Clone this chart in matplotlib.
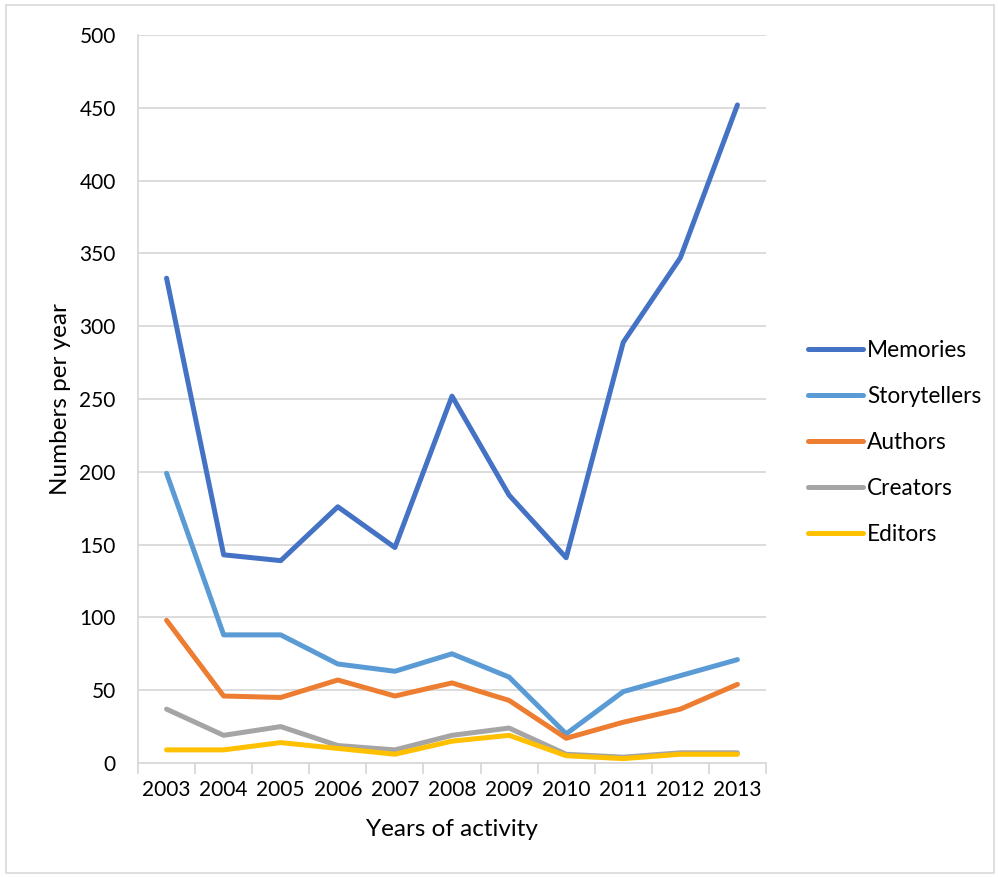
import matplotlib.pyplot as plt
from matplotlib.patches import Rectangle

plt.rcParams['font.family'] = ['Lato', 'DejaVu Sans']

years = ['2003', '2004', '2005', '2006', '2007', '2008', '2009', '2010', '2011', '2012', '2013']
memories = [333, 143, 139, 176, 148, 252, 184, 141, 289, 347, 452]
storytellers = [199, 88, 88, 68, 63, 75, 59, 20, 49, 60, 71]
authors = [98, 46, 45, 57, 46, 55, 43, 17, 28, 37, 54]
creators = [37, 19, 25, 12, 9, 19, 24, 6, 4, 7, 7]
editors = [9, 9, 14, 10, 6, 15, 19, 5, 3, 6, 6]

series = [
    ('Memories', memories, '#4472C4'),
    ('Storytellers', storytellers, '#5B9BD5'),
    ('Authors', authors, '#ED7D31'),
    ('Creators', creators, '#A5A5A5'),
    ('Editors', editors, '#FFC000'),
]

fig = plt.figure(figsize=(9.98, 8.77), dpi=100)
ax = fig.add_axes([0.1383, 0.130, 0.6292, 0.830])

x = list(range(len(years)))
for name, vals, color in series:
    ax.plot(x, vals, color=color, linewidth=3.6, label=name,
            solid_capstyle='round', solid_joinstyle='round')

ax.set_xlim(-0.5, len(years) - 0.5)
ax.set_ylim(0, 500)
ax.set_yticks(range(0, 501, 50))
ax.set_xticks(x)
ax.set_xticklabels(years)
ax.set_xticks([i - 0.5 for i in range(len(years) + 1)], minor=True)

ax.grid(axis='y', color='#D9D9D9', linewidth=1.3)
ax.set_axisbelow(True)
for side in ['top', 'right']:
    ax.spines[side].set_visible(False)
for side in ['left', 'bottom']:
    ax.spines[side].set_color('#D9D9D9')
    ax.spines[side].set_linewidth(1.3)

ax.tick_params(axis='y', length=0, labelsize=15, pad=16)
ax.tick_params(axis='x', which='major', length=0, labelsize=15, pad=12)
ax.tick_params(axis='x', which='minor', length=8, width=1.3, color='#D9D9D9')

ax.set_ylabel('Numbers per year', fontsize=17.5, labelpad=6)
ax.set_xlabel('Years of activity', fontsize=17.5, labelpad=14)

ax.legend(loc='center left', bbox_to_anchor=(1.035, 0.44), frameon=False,
          fontsize=16.3, handlelength=2.4, handletextpad=0.2, labelspacing=1.1)

# light chart frame around the whole figure
fig.patches.append(Rectangle((0.006, 0.004), 0.99, 0.99, transform=fig.transFigure,
                             fill=False, edgecolor='#D9D9D9', linewidth=1.2))

fig.savefig('out.png', dpi=100)
